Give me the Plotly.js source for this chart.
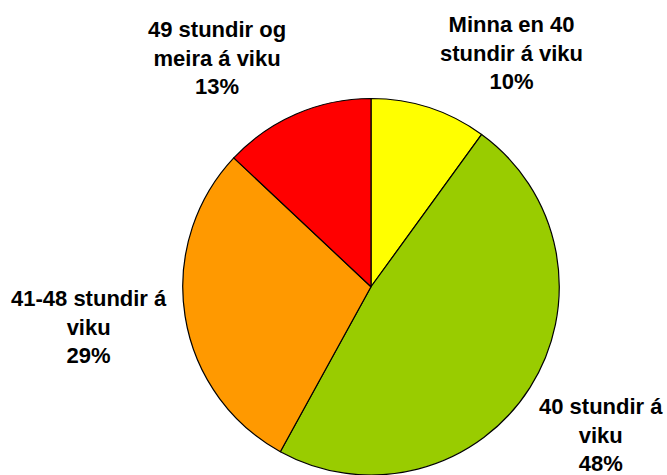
<!DOCTYPE html>
<html>
<head>
<meta charset="utf-8">
<script src="https://cdn.plot.ly/plotly-3.0.1.min.js"></script>
<style>html,body{margin:0;padding:0;background:#fff;}#chart{width:667px;height:475px;}</style>
</head>
<body>
<div id="chart"></div>
<script>
const categories = ["Minna en 40 stundir á viku", "40 stundir á viku", "41-48 stundir á viku", "49 stundir og meira á viku"];
const labelLines = [["Minna en 40", "stundir á viku"], ["40 stundir á", "viku"], ["41-48 stundir á", "viku"], ["49 stundir og", "meira á viku"]];
const values = [10, 48, 29, 13];
const colors = ["#FFFF00", "#99CC00", "#FF9900", "#FF0000"];

// label placement (pixels in the 667x475 canvas)
const labelPos = [[511, 53], [601, 435], [89, 327], [217, 58]];

const W = 667, H = 475;
const cx = 371, cy = 287.5, r = 189;

const total = values.reduce((a, b) => a + b, 0);
const annotations = categories.map((c, i) => ({
  xref: 'paper', yref: 'paper',
  x: labelPos[i][0] / W, y: 1 - labelPos[i][1] / H,
  xanchor: 'center', yanchor: 'middle',
  showarrow: false,
  align: 'center',
  text: labelLines[i].join('<br>') + '<br>' + Math.round(values[i] / total * 100) + '%',
  font: {family: 'Liberation Sans, Arial, sans-serif', size: 22, color: '#000', weight: 'bold'}
}));

const trace = {
  type: 'pie',
  labels: categories,
  values: values,
  sort: false,
  direction: 'clockwise',
  rotation: 0,
  textinfo: 'none',
  hoverinfo: 'none',
  marker: {colors: colors, line: {color: '#000', width: 1.2}},
  domain: {x: [(cx - r) / W, (cx + r) / W], y: [1 - (cy + r) / H, 1 - (cy - r) / H]}
};

Plotly.newPlot('chart', [trace], {
  width: W, height: H,
  margin: {l: 0, r: 0, t: 0, b: 0},
  paper_bgcolor: '#fff',
  showlegend: false,
  annotations: annotations,
  font: {family: 'Liberation Sans, Arial, sans-serif'}
}, {staticPlot: true});
</script>
</body>
</html>
